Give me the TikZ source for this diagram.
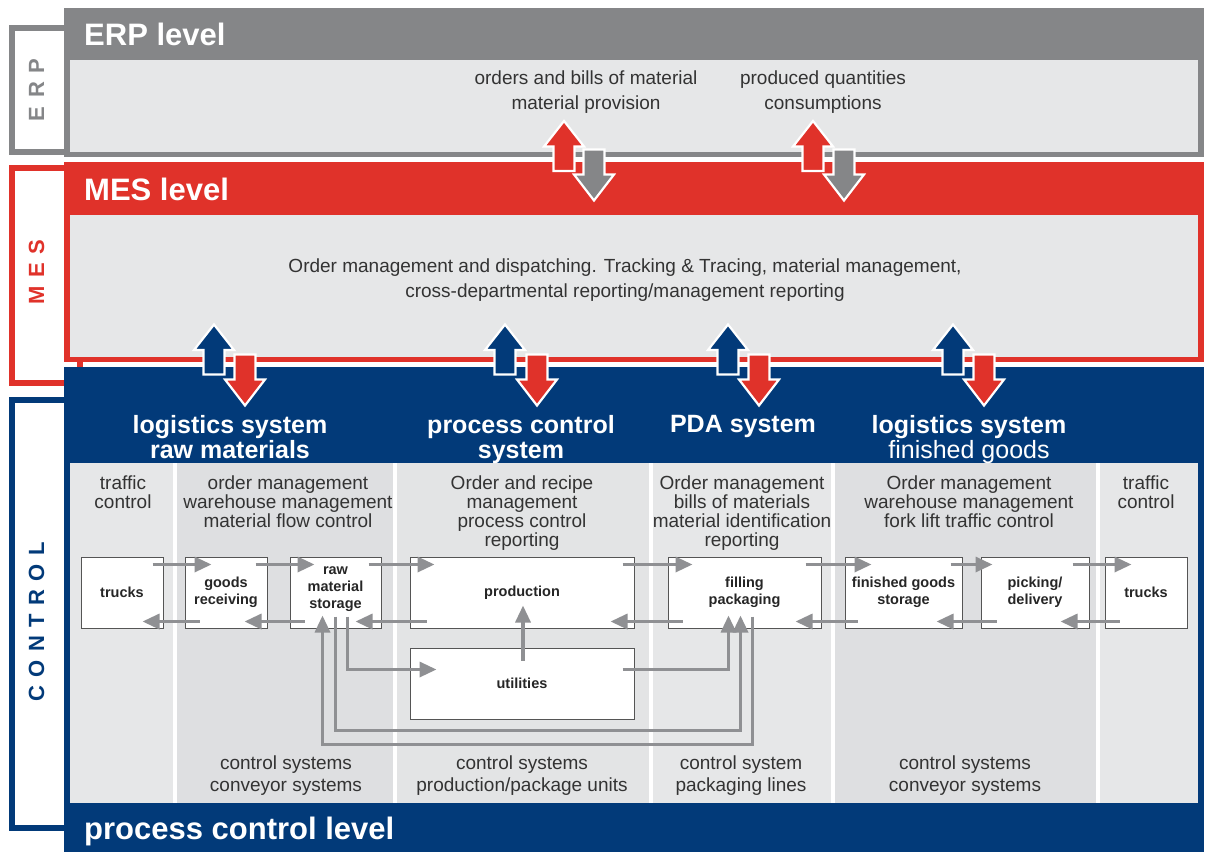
\documentclass[tikz,border=0pt]{standalone}
\usepackage{fontspec}
\setmainfont{Liberation Sans}
\usetikzlibrary{arrows.meta,calc}
\definecolor{erpgray}{HTML}{858688}
\definecolor{lightbg}{HTML}{E6E7E8}
\definecolor{colbg}{HTML}{DEDFE1}
\definecolor{mesred}{HTML}{E0322A}
\definecolor{ctrlblue}{HTML}{023A79}
\definecolor{txt}{HTML}{333333}
\definecolor{flowgray}{HTML}{8F9093}
\definecolor{boxline}{HTML}{555555}
\newcommand\blkup[3]{\filldraw[fill=#3,draw=white,line width=2.2pt] (#1,#2) -- ++(20,25.5) -- ++(-9.5,0) -- ++(0,24.5) -- ++(-21,0) -- ++(0,-24.5) -- ++(-9.5,0) -- cycle;}
\newcommand\blkdown[3]{\filldraw[fill=#3,draw=white,line width=2.2pt] (#1,#2) -- ++(20,-26) -- ++(-9.5,0) -- ++(0,-25) -- ++(-21,0) -- ++(0,25) -- ++(-9.5,0) -- cycle;}
\tikzset{
  bracket/.style={line width=6pt, fill=white},
  leveltxt/.style={text=white, font=\fontsize{31}{33}\selectfont\bfseries, anchor=base west, inner sep=0},
  systxt/.style={text=white, font=\fontsize{25}{25}\selectfont\bfseries, align=center, anchor=north, inner sep=0},
  sidetxt/.style={font=\fontsize{22}{24}\selectfont\bfseries, rotate=90, inner sep=0},
  erptxt/.style={text=txt, font=\fontsize{19}{25}\selectfont, align=center, anchor=north, inner sep=0},
  coltxt/.style={text=txt, font=\fontsize{19}{19}\selectfont, align=center, anchor=north, inner sep=0},
  bottxt/.style={text=txt, font=\fontsize{19}{22}\selectfont, align=center, anchor=north, inner sep=0},
  procbox/.style={draw=boxline, line width=1pt, fill=white, inner sep=0, align=center, minimum height=71pt,
    font=\fontsize{14.5}{17}\selectfont\bfseries, text=black!85},
  flow/.style={draw=flowgray, line width=3.3pt, -{Triangle[length=17pt,width=15pt]}},
  divider/.style={draw=white, line width=4pt}
}
\begin{document}
\begin{tikzpicture}[x=1pt,y=-1pt]
\useasboundingbox (0,0) rectangle (1206,852);
% side brackets
\draw[bracket, draw=erpgray] (11.5,28) rectangle (80,152);
\draw[bracket, draw=mesred] (11.5,167.5) rectangle (80,382.5);
\draw[bracket, draw=ctrlblue] (11.5,399.5) rectangle (80,827.5);
\node[sidetxt, text=erpgray] (erplab) at (36.5,90) {E\hspace{8.5pt}R\hspace{8.5pt}P};
\node[sidetxt, text=mesred] (meslab) at (36.5,272) {M\hspace{8.5pt}E\hspace{8.5pt}S};
\node[sidetxt, text=ctrlblue] (ctrllab) at (36.5,622) {C\hspace{8.5pt}O\hspace{8.5pt}N\hspace{8.5pt}T\hspace{8.5pt}R\hspace{8.5pt}O\hspace{8.5pt}L};
% ERP band
\fill[erpgray] (64,8) rectangle (1204,157);
\fill[lightbg] (70,60) rectangle (1198,152);
% MES band
\fill[mesred] (64,162) rectangle (1204,362);
\fill[lightbg] (70,215) rectangle (1198,357);
% CONTROL band
\fill[ctrlblue] (64,367) rectangle (1204,852);
\fill[lightbg] (70,463) rectangle (175,803);
\fill[colbg] (175,463) rectangle (395,803);
\fill[lightbg!60!colbg] (395,463) rectangle (651,803);
\fill[lightbg] (651,463) rectangle (833,803);
\fill[colbg] (833,463) rectangle (1098,803);
\fill[lightbg] (1098,463) rectangle (1198,803);
\foreach \xx in {175,395,651,833,1098} \draw[divider] (\xx,463) -- (\xx,803);
% level titles
\node[leveltxt] (erptitle) at (84,45.5) {ERP level};
\node[leveltxt] (mestitle) at (84,200.5) {MES level};
\node[leveltxt] (pcltitle) at (84,839.5) {process control level};
% ERP texts
\node[erptxt] (erpA) at (586,71) {orders and bills of material\\material provision};
\node[erptxt] (erpB) at (823,71) {produced quantities\\consumptions};
% MES text
\node[erptxt] (mestext) at (625,259) {Order management and dispatching. Tracking \& Tracing, material management,\\cross-departmental reporting/management reporting};
% system titles
\node[systxt] (sys1) at (230,415.5) {logistics system\\raw materials};
\node[systxt] (sys2) at (521,415.5) {process control\\system};
\node[systxt] (sys3) at (743,415.5) {PDA system};
\node[systxt] (sys4) at (969,415.5) {logistics system\\\mdseries finished goods};
% column texts
\node[coltxt] (c1) at (123,476) {traffic\\control};
\node[coltxt] (c2) at (288,476) {order management\\warehouse management\\material flow control};
\node[coltxt] (c3) at (522,476) {Order and recipe\\management\\process control\\reporting};
\node[coltxt] (c4) at (742,476) {Order management\\bills of materials\\material identification\\reporting};
\node[coltxt] (c5) at (969,476) {Order management\\warehouse management\\fork lift traffic control};
\node[coltxt] (c6) at (1146,476) {traffic\\control};
\node[bottxt] (b2) at (286,756) {control systems\\conveyor systems};
\node[bottxt] (b3) at (522,756) {control systems\\production/package units};
\node[bottxt] (b4) at (741,756) {control system\\packaging lines};
\node[bottxt] (b5) at (965,756) {control systems\\conveyor systems};
% block arrows ERP <-> MES
\blkup{564}{121}{mesred}
\blkdown{594}{200.5}{erpgray}
\blkup{813}{121}{mesred}
\blkdown{844}{200.5}{erpgray}
% block arrows MES <-> CONTROL
\blkup{214}{324.5}{ctrlblue}
\blkdown{245}{405.5}{mesred}
\blkup{505}{324.5}{ctrlblue}
\blkdown{537}{405.5}{mesred}
\blkup{728}{324.5}{ctrlblue}
\blkdown{759}{405.5}{mesred}
\blkup{953}{324.5}{ctrlblue}
\blkdown{984}{405.5}{mesred}
% process boxes
\node[procbox, minimum width=82pt] (t1) at (122,592.5) {trucks};
\node[procbox, minimum width=82pt] (goods) at (226,592.5) {goods\\receiving};
\node[procbox, minimum width=91pt, text depth=9pt] (raw) at (335.5,592.5) {raw\\material\\storage};
\node[procbox, minimum width=224pt] (prod) at (522,592.5) {production};
\node[procbox, minimum width=224pt] (util) at (522,683.5) {utilities};
\node[procbox, minimum width=153pt] (fill) at (744.5,592.5) {filling\\packaging};
\node[procbox, minimum width=117pt] (fin) at (903.5,592.5) {finished goods\\storage};
\node[procbox, minimum width=108pt] (pick) at (1035,592.5) {picking/\\delivery};
\node[procbox, minimum width=82pt] (t2) at (1146,592.5) {trucks};
% forward flows (top)
\draw[flow] ([shift={(-11,8)}]t1.north east) -- ([shift={(27,8)}]goods.north west);
\draw[flow] ([shift={(-12,8)}]goods.north east) -- ([shift={(25,8)}]raw.north west);
\draw[flow] ([shift={(-13,8)}]raw.north east) -- ([shift={(25,8)}]prod.north west);
\draw[flow] ([shift={(-12,8)}]prod.north east) -- ([shift={(25,8)}]fill.north west);
\draw[flow] ([shift={(-16,8)}]fill.north east) -- ([shift={(27,8)}]fin.north west);
\draw[flow] ([shift={(-12,8)}]fin.north east) -- ([shift={(12,8)}]pick.north west);
\draw[flow] ([shift={(-17,8)}]pick.north east) -- ([shift={(27,8)}]t2.north west);
% backward flows (bottom)
\draw[flow] ([shift={(15,-7)}]goods.south west) -- ([shift={(-21,-7)}]t1.south east);
\draw[flow] ([shift={(15,-7)}]raw.south west) -- ([shift={(-23,-7)}]goods.south east);
\draw[flow] ([shift={(17,-7)}]prod.south west) -- ([shift={(-26,-7)}]raw.south east);
\draw[flow] ([shift={(15,-7)}]fill.south west) -- ([shift={(-24,-7)}]prod.south east);
\draw[flow] ([shift={(13,-7)}]fin.south west) -- ([shift={(-26,-7)}]fill.south east);
\draw[flow] ([shift={(16,-7)}]pick.south west) -- ([shift={(-26,-7)}]fin.south east);
\draw[flow] ([shift={(15,-7)}]t2.south west) -- ([shift={(-29,-7)}]pick.south east);
% loops
\draw[flow] ([shift={(85,-12)}]fill.south west) -- ++(0,128) -| ([shift={(33,-13)}]raw.south west);
\draw[flow] ([shift={(46,-12)}]raw.south west) -- ++(0,114) -| ([shift={(73,-13)}]fill.south west);
\draw[flow] ([shift={(58,-12)}]raw.south west) |- ([shift={(27,22)}]util.north west);
\draw[flow] ([shift={(-12,22)}]util.north east) -| ([shift={(61,-13)}]fill.south west);
\draw[flow] ([shift={(1,13)}]util.north) -- ([shift={(1,-23)}]prod.south);
\end{tikzpicture}
\end{document}
